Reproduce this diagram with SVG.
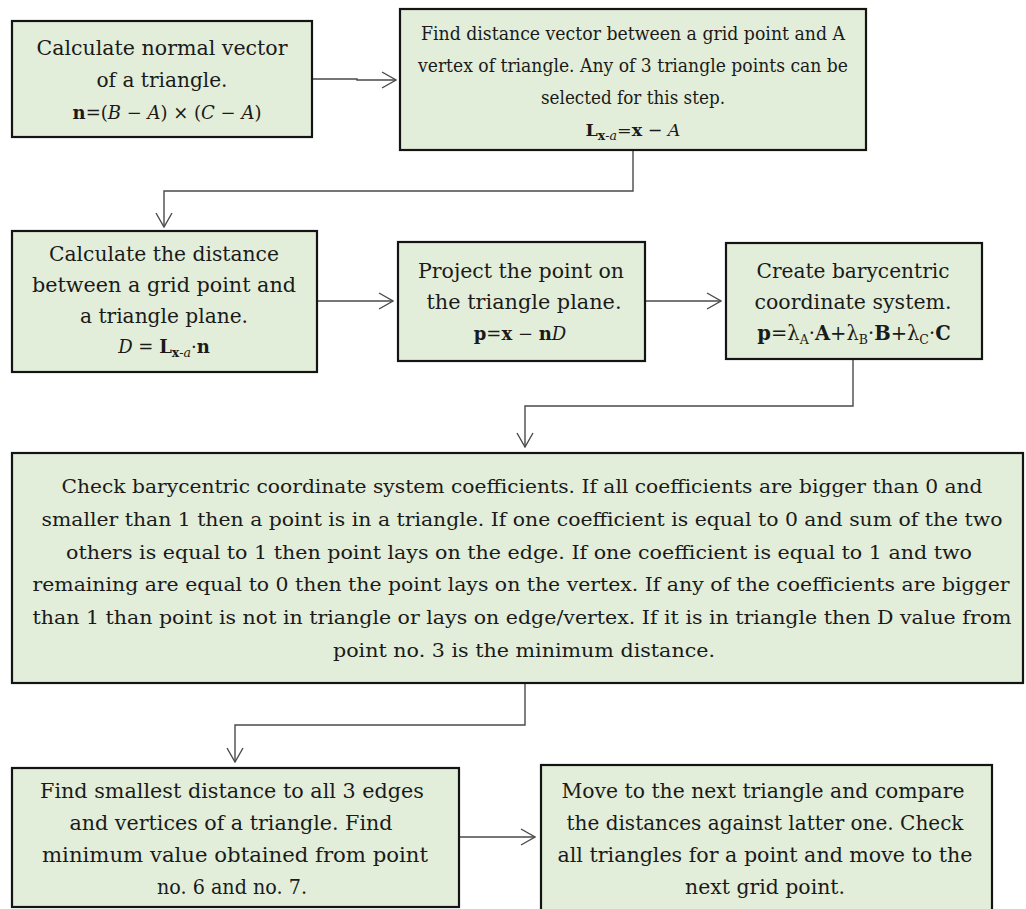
<svg xmlns="http://www.w3.org/2000/svg" width="1026" height="909" viewBox="0 0 1026 909">
<defs>
<style>
.box{fill:#e2eed9;stroke:#141414;stroke-width:2.2}
.t{font-family:"DejaVu Serif",serif;font-size:19px;fill:#1a1a1a;text-anchor:middle}
.f{font-size:18px}
.b{font-weight:bold}
.i{font-style:italic}
.s{font-size:12.5px}
.c{fill:none;stroke:#4a4a4a;stroke-width:1.4}
</style>
<marker id="ah" viewBox="0 0 16 18" refX="15" refY="9" markerWidth="16" markerHeight="18" markerUnits="userSpaceOnUse" orient="auto">
<path d="M1,1 L15,9 L1,17" fill="none" stroke="#4a4a4a" stroke-width="1.4"/>
</marker>
</defs>
<rect width="1026" height="909" fill="#ffffff"/>

<g id="connectors">
<polyline class="c" points="312,79 357,79 357,80 396,80" marker-end="url(#ah)"/>
<polyline class="c" points="633,150 633,191 164,191 164,227" marker-end="url(#ah)"/>
<polyline class="c" points="317,301 393,301" marker-end="url(#ah)"/>
<polyline class="c" points="645,301 721,301" marker-end="url(#ah)"/>
<polyline class="c" points="853,359 853,406 525,406 525,447" marker-end="url(#ah)"/>
<polyline class="c" points="525,683 525,725 235,725 235,762" marker-end="url(#ah)"/>
<polyline class="c" points="459,837 535,837" marker-end="url(#ah)"/>
</g>

<g id="n1">
<rect class="box" x="12" y="21" width="300" height="116"/>
<text class="t" style="font-size:20.5px" x="162" y="55" textLength="251" lengthAdjust="spacingAndGlyphs">Calculate normal vector</text>
<text class="t" style="font-size:20.5px" x="162" y="87" textLength="131" lengthAdjust="spacingAndGlyphs">of a triangle.</text>
<text class="t f" x="167" y="119"><tspan class="b">n</tspan>=(<tspan class="i">B</tspan> − <tspan class="i">A</tspan>) × (<tspan class="i">C</tspan> − <tspan class="i">A</tspan>)</text>
</g>

<g id="n2">
<rect class="box" x="400" y="9" width="466" height="141"/>
<text class="t" style="font-size:18.5px" x="633" y="40" textLength="424" lengthAdjust="spacingAndGlyphs">Find distance vector between a grid point and A</text>
<text class="t" style="font-size:18.5px" x="633" y="72" textLength="430" lengthAdjust="spacingAndGlyphs">vertex of triangle. Any of 3 triangle points can be</text>
<text class="t" style="font-size:18.5px" x="633" y="104" textLength="184" lengthAdjust="spacingAndGlyphs">selected for this step.</text>
<text class="t" style="font-size:17.5px" x="633" y="136"><tspan class="b">L</tspan><tspan class="s" dy="4"><tspan class="b">x</tspan>-<tspan class="i">a</tspan></tspan><tspan dy="-4">=</tspan><tspan class="b">x</tspan> − <tspan class="i">A</tspan></text>
</g>

<g id="n3">
<rect class="box" x="12" y="231" width="305" height="141"/>
<text class="t" style="font-size:20.5px" x="164" y="261" textLength="230" lengthAdjust="spacingAndGlyphs">Calculate the distance</text>
<text class="t" style="font-size:20.5px" x="164" y="292" textLength="264" lengthAdjust="spacingAndGlyphs">between a grid point and</text>
<text class="t" style="font-size:20.5px" x="164" y="323" textLength="168" lengthAdjust="spacingAndGlyphs">a triangle plane.</text>
<text class="t f" x="164" y="353"><tspan class="i">D</tspan> = <tspan class="b">L</tspan><tspan class="s" dy="4"><tspan class="b">x</tspan>-<tspan class="i">a</tspan></tspan><tspan dy="-4">·</tspan><tspan class="b">n</tspan></text>
</g>

<g id="n4">
<rect class="box" x="398" y="242" width="247" height="119"/>
<text class="t" style="font-size:19.5px" x="521" y="278" textLength="206" lengthAdjust="spacingAndGlyphs">Project the point on</text>
<text class="t" style="font-size:19.5px" x="524" y="309" textLength="195" lengthAdjust="spacingAndGlyphs">the triangle plane.</text>
<text class="t f" x="520" y="340"><tspan class="b">p</tspan>=<tspan class="b">x</tspan> − <tspan class="b">n</tspan><tspan class="i">D</tspan></text>
</g>

<g id="n5">
<rect class="box" x="726" y="243" width="256" height="116"/>
<text class="t" style="font-size:20px" x="853" y="278" textLength="193" lengthAdjust="spacingAndGlyphs">Create barycentric</text>
<text class="t" style="font-size:20px" x="853" y="309" textLength="197" lengthAdjust="spacingAndGlyphs">coordinate system.</text>
<text class="t" style="font-size:19.5px" x="854" y="340"><tspan class="b">p</tspan>=λ<tspan class="s" dy="4">A</tspan><tspan dy="-4">·</tspan><tspan class="b">A</tspan>+λ<tspan class="s" dy="4">B</tspan><tspan dy="-4">·</tspan><tspan class="b">B</tspan>+λ<tspan class="s" dy="4">C</tspan><tspan dy="-4">·</tspan><tspan class="b">C</tspan></text>
</g>

<g id="n6">
<rect class="box" x="12" y="453" width="1011" height="230"/>
<text class="t" x="522" y="493" textLength="921" lengthAdjust="spacingAndGlyphs">Check barycentric coordinate system coefficients. If all coefficients are bigger than 0 and</text>
<text class="t" x="522" y="526" textLength="961" lengthAdjust="spacingAndGlyphs">smaller than 1 then a point is in a triangle. If one coefficient is equal to 0 and sum of the two</text>
<text class="t" x="519" y="559" textLength="906" lengthAdjust="spacingAndGlyphs">others is equal to 1 then point lays on the edge. If one coefficient is equal to 1 and two</text>
<text class="t" x="521" y="591" textLength="977" lengthAdjust="spacingAndGlyphs">remaining are equal to 0 then the point lays on the vertex. If any of the coefficients are bigger</text>
<text class="t" x="522" y="624" textLength="979" lengthAdjust="spacingAndGlyphs">than 1 than point is not in triangle or lays on edge/vertex. If it is in triangle then D value from</text>
<text class="t" x="524" y="657" textLength="382" lengthAdjust="spacingAndGlyphs">point no. 3 is the minimum distance.</text>
</g>

<g id="n7">
<rect class="box" x="12" y="768" width="447" height="139"/>
<text class="t" style="font-size:19.5px" x="232" y="798" textLength="384" lengthAdjust="spacingAndGlyphs">Find smallest distance to all 3 edges</text>
<text class="t" style="font-size:19.5px" x="231" y="830" textLength="323" lengthAdjust="spacingAndGlyphs">and vertices of a triangle. Find</text>
<text class="t" style="font-size:19.5px" x="235" y="862" textLength="386" lengthAdjust="spacingAndGlyphs">minimum value obtained from point</text>
<text class="t" style="font-size:19.5px" x="232" y="894" textLength="150" lengthAdjust="spacingAndGlyphs">no. 6 and no. 7.</text>
</g>

<g id="n8">
<rect class="box" x="541" y="765" width="451" height="147"/>
<text class="t" style="font-size:20.5px" x="763" y="798" textLength="403" lengthAdjust="spacingAndGlyphs">Move to the next triangle and compare</text>
<text class="t" style="font-size:20.5px" x="765" y="830" textLength="397" lengthAdjust="spacingAndGlyphs">the distances against latter one. Check</text>
<text class="t" style="font-size:20.5px" x="765" y="862" textLength="415" lengthAdjust="spacingAndGlyphs">all triangles for a point and move to the</text>
<text class="t" style="font-size:20.5px" x="765" y="894" textLength="160" lengthAdjust="spacingAndGlyphs">next grid point.</text>
</g>
</svg>
